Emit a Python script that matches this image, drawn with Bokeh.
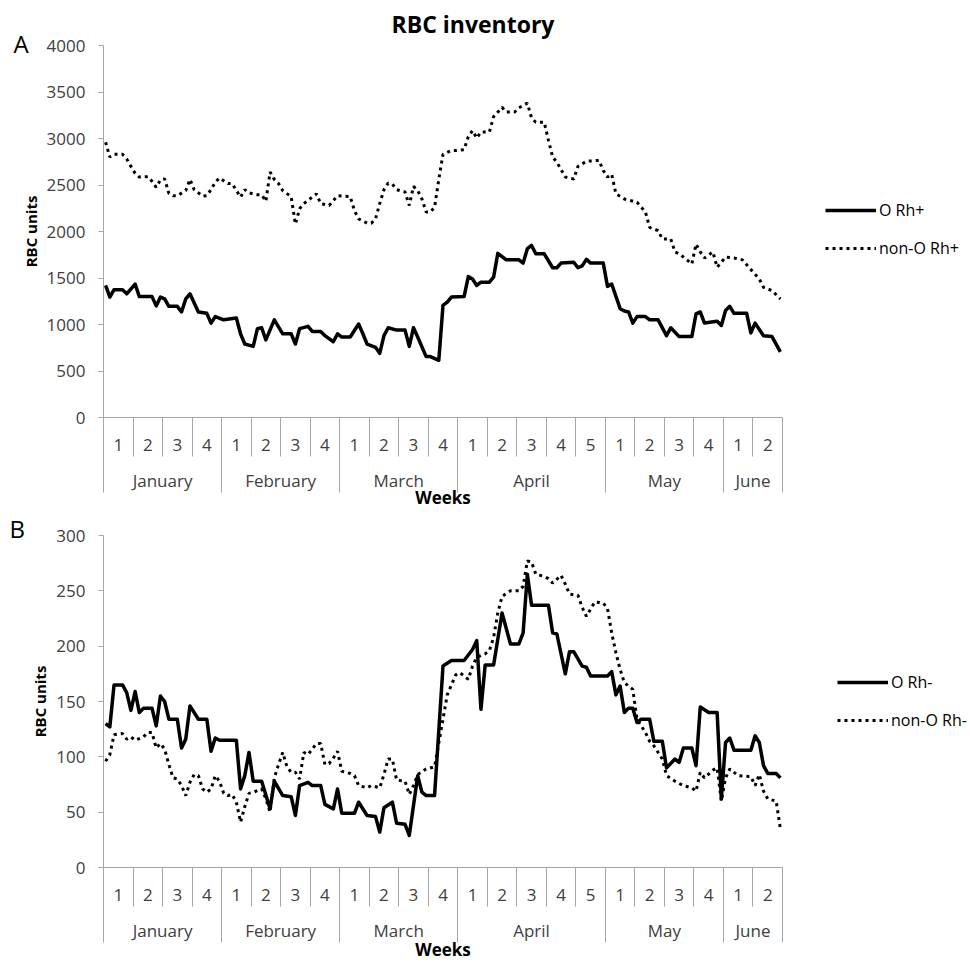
from bokeh.plotting import figure
from bokeh.models import Range1d, LinearAxis, FixedTicker, Legend, LegendItem, Title
from bokeh.layouts import column
from bokeh.embed import file_html
from bokeh.resources import INLINE

# ---------------- data ----------------
months = ["January", "February", "March", "April", "May", "June"]
weeks_in_month = [4, 4, 4, 5, 4, 2]
days_in_week = 7

# Panel A  (day index, RBC units)
a_orhpos_day = [0, 1, 2, 4, 5, 7, 8, 11, 12, 13, 14, 15, 17, 18, 19, 20, 22, 24, 25, 26, 28, 31, 32, 33, 35, 36, 37, 38, 40, 42,
                44, 45, 46, 48, 49, 51, 52, 54, 55, 56, 58, 60, 61, 62, 64, 65, 66, 67, 69, 71, 72, 73, 74, 76, 77, 79, 80, 81, 82, 85,
                86, 87, 88, 89, 91, 92, 93, 95, 98, 99, 100, 101, 102, 104, 106, 107, 108, 111, 112, 113, 114, 115, 118, 119, 120, 122,
                123, 124, 125, 126, 128, 129, 131, 133, 134, 136, 139, 140, 141, 142, 145, 146, 147, 148, 149, 152, 153, 154, 156, 158, 160]
a_orhpos_units = [1420, 1295, 1375, 1375, 1330, 1435, 1300, 1300, 1200, 1295, 1275, 1195, 1195, 1135, 1275, 1330, 1135, 1120, 1015, 1085,
                  1050, 1070, 900, 790, 765, 955, 965, 835, 1050, 900, 900, 790, 955, 980, 925, 925, 880, 815, 900, 865, 865, 1005, 900,
                  790, 755, 690, 880, 965, 940, 940, 765, 965, 865, 655, 655, 615, 1205, 1240, 1295, 1300, 1515, 1490, 1420, 1455, 1455,
                  1510, 1765, 1695, 1695, 1660, 1815, 1850, 1760, 1760, 1610, 1610, 1660, 1670, 1610, 1630, 1700, 1660, 1660, 1410, 1435,
                  1170, 1145, 1135, 1015, 1085, 1085, 1050, 1050, 880, 965, 870, 870, 1115, 1135, 1015, 1035, 990, 1150, 1195, 1120, 1120,
                  910, 1015, 880, 870, 705]

a_nonorhpos_day = [0, 1, 2, 4, 5, 6, 7, 8, 10, 11, 12, 13, 14, 15, 16, 17, 19, 20, 21, 23, 24, 25, 26, 27, 29, 30, 32, 33, 34, 36, 37,
                   38, 39, 40, 41, 42, 44, 45, 46, 47, 50, 51, 53, 55, 58, 59, 60, 62, 63, 64, 65, 66, 67, 68, 69, 71, 72, 73, 74, 75,
                   76, 77, 78, 79, 80, 82, 83, 85, 86, 87, 88, 89, 91, 92, 94, 95, 97, 98, 100, 101, 102, 104, 105, 106, 107, 109, 111,
                   112, 114, 117, 118, 119, 120, 121, 123, 126, 128, 129, 131, 132, 134, 135, 136, 138, 139, 140, 141, 142, 144, 145,
                   147, 149, 151, 153, 155, 156, 158, 160]
a_nonorhpos_units = [2960, 2800, 2830, 2830, 2780, 2700, 2625, 2585, 2590, 2540, 2475, 2555, 2565, 2410, 2385, 2385, 2440, 2560, 2450,
                     2380, 2385, 2450, 2530, 2575, 2515, 2515, 2370, 2450, 2415, 2395, 2395, 2325, 2640, 2560, 2515, 2440, 2375, 2080,
                     2245, 2300, 2405, 2300, 2280, 2385, 2375, 2225, 2135, 2090, 2090, 2135, 2300, 2450, 2520, 2510, 2450, 2425, 2280,
                     2485, 2440, 2350, 2210, 2210, 2260, 2560, 2830, 2870, 2870, 2880, 3020, 3085, 3005, 3070, 3070, 3235, 3335, 3285,
                     3285, 3330, 3380, 3220, 3175, 3175, 2980, 2800, 2745, 2585, 2565, 2700, 2755, 2765, 2655, 2585, 2615, 2405, 2350,
                     2315, 2210, 2045, 2010, 1920, 1920, 1780, 1760, 1690, 1650, 1865, 1780, 1715, 1780, 1615, 1725, 1715, 1695, 1590,
                     1490, 1400, 1365, 1275]

# Panel B
b_orhneg_day = [0, 1, 2, 4, 5, 6, 7, 8, 9, 11, 12, 13, 14, 15, 17, 18, 19, 20, 22, 24, 25, 26, 27, 31, 32, 33, 34, 35, 37, 39, 40, 42,
                44, 45, 46, 48, 49, 51, 52, 54, 55, 56, 59, 60, 62, 64, 65, 66, 68, 69, 71, 72, 74, 75, 76, 78, 80, 82, 85, 87, 88, 89,
                90, 92, 94, 96, 98, 99, 100, 101, 105, 106, 107, 109, 110, 111, 113, 114, 115, 119, 120, 121, 122, 123, 124, 125, 126,
                127, 129, 130, 132, 133, 135, 136, 137, 139, 140, 141, 143, 145, 146, 147, 148, 149, 153, 154, 155, 156, 157, 159, 160]
b_orhneg_units = [130, 127, 165, 165, 158, 142, 159, 140, 144, 144, 128, 155, 150, 134, 134, 108, 116, 146, 134, 134, 105, 117, 115, 115,
                  71, 83, 104, 78, 78, 53, 78, 65, 64, 47, 74, 77, 74, 74, 57, 53, 71, 49, 49, 59, 47, 46, 32, 54, 59, 40, 39, 29, 83,
                  68, 65, 65, 182, 187, 187, 197, 205, 143, 183, 183, 230, 202, 202, 212, 265, 237, 237, 212, 211, 175, 195, 195, 182,
                  181, 173, 173, 177, 156, 164, 140, 144, 144, 131, 134, 134, 114, 114, 90, 98, 95, 108, 108, 92, 145, 140, 140, 62,
                  113, 117, 106, 106, 119, 113, 92, 85, 85, 81]

b_nonorhneg_day = [0, 1, 2, 4, 5, 6, 7, 9, 10, 11, 12, 13, 14, 15, 16, 17, 18, 19, 20, 21, 22, 23, 24, 25, 26, 27, 28, 29, 30, 31, 32,
                   33, 34, 35, 37, 38, 39, 40, 41, 42, 43, 44, 45, 46, 47, 48, 49, 50, 51, 52, 53, 54, 55, 56, 58, 59, 60, 62, 63, 65,
                   66, 67, 68, 69, 71, 72, 73, 74, 76, 78, 80, 81, 82, 83, 84, 85, 86, 87, 88, 90, 91, 92, 93, 94, 96, 98, 99, 100,
                   101, 102, 104, 105, 106, 108, 109, 110, 112, 113, 114, 116, 118, 119, 120, 121, 122, 123, 124, 125, 126, 127, 128,
                   129, 130, 132, 133, 135, 137, 139, 140, 141, 142, 144, 145, 146, 147, 148, 150, 153, 154, 155, 156, 157, 159, 160]
b_nonorhneg_units = [96, 102, 120, 121, 116, 118, 115, 118, 122, 122, 108, 112, 107, 93, 81, 80, 74, 65, 77, 84, 83, 71, 68, 71, 83, 78,
                     67, 65, 66, 59, 41, 55, 67, 68, 71, 62, 50, 81, 93, 104, 91, 86, 86, 80, 104, 102, 107, 112, 112, 93, 94, 99,
                     105, 87, 85, 83, 74, 72, 74, 72, 84, 98, 98, 79, 78, 66, 74, 84, 89, 91, 134, 156, 165, 174, 176, 173, 170, 182,
                     190, 193, 196, 208, 230, 245, 250, 250, 254, 277, 276, 265, 263, 261, 257, 264, 256, 247, 246, 235, 227, 240,
                     239, 234, 212, 194, 179, 167, 164, 161, 134, 128, 122, 114, 110, 98, 83, 78, 74, 72, 69, 86, 81, 88, 90, 60, 81,
                     89, 83, 82, 74, 84, 69, 62, 60, 35]

# ---------------- styling ----------------
FONT = "Open Sans"
GRAY = "#a6a6a6"
TXT = "#404040"
PAGE_W = 970

n_weeks = sum(weeks_in_month)
n_days = n_weeks * days_in_week
span = 2 * n_days                      # two x-units per day, point drawn at day centre

week_bounds = [2 * days_in_week * k for k in range(n_weeks + 1)]
week_centers = [2 * days_in_week * k + days_in_week for k in range(n_weeks)]
week_names = {}
k = 0
for nw in weeks_in_month:
    for w in range(nw):
        week_names[week_centers[k]] = str(w + 1)
        k += 1
month_bounds = [0]
cum = 0
for nw in weeks_in_month:
    cum += nw
    month_bounds.append(2 * days_in_week * cum)
month_centers = [(a + b) // 2 for a, b in zip(month_bounds[:-1], month_bounds[1:])]
month_names = dict(zip(month_centers, months))


def make_panel(series, ymax, ystep, frame_w, frame_h, left, top, letter, letter_standoff,
               letter_offset, legend_xy, weeks_standoff, title=False):
    p = figure(frame_width=frame_w, frame_height=frame_h,
               x_range=Range1d(0, span), y_range=Range1d(0, ymax),
               output_backend="svg", toolbar_location=None, x_axis_location=None,
               min_border_left=left, min_border_right=PAGE_W - left - frame_w,
               min_border_top=top, min_border_bottom=0)
    p.grid.grid_line_color = None
    p.outline_line_color = None

    yax = p.yaxis[0]
    yax.ticker = FixedTicker(ticks=list(range(0, ymax + 1, ystep)))
    yax.axis_line_color = GRAY
    yax.major_tick_line_color = GRAY
    yax.major_tick_out = 5
    yax.major_tick_in = 0
    yax.minor_tick_out = 0
    yax.minor_tick_in = 0
    yax.major_label_text_font = FONT
    yax.major_label_text_font_size = "17px"
    yax.major_label_text_color = TXT
    yax.major_label_standoff = 13
    yax.axis_label = "RBC units"
    yax.axis_label_text_font = FONT
    yax.axis_label_text_font_size = "15px"
    yax.axis_label_text_font_style = "bold"
    yax.axis_label_text_color = "black"
    yax.axis_label_standoff = 3

    # week row: labels between separator lines
    ax1 = LinearAxis(ticker=FixedTicker(ticks=week_centers, minor_ticks=week_bounds),
                     major_label_overrides=week_names)
    ax1.axis_line_color = GRAY
    ax1.major_tick_out = 0
    ax1.major_tick_in = 0
    ax1.minor_tick_out = 39
    ax1.minor_tick_in = 0
    ax1.minor_tick_line_color = GRAY
    ax1.major_label_text_font = FONT
    ax1.major_label_text_font_size = "17px"
    ax1.major_label_text_color = TXT
    ax1.major_label_standoff = -18
    p.add_layout(ax1, "below")

    # month row
    ax2 = LinearAxis(ticker=FixedTicker(ticks=month_centers, minor_ticks=month_bounds),
                     major_label_overrides=month_names)
    ax2.axis_line_color = None
    ax2.major_tick_out = 0
    ax2.major_tick_in = 0
    ax2.minor_tick_out = 39
    ax2.minor_tick_in = 0
    ax2.minor_tick_line_color = GRAY
    ax2.major_label_text_font = FONT
    ax2.major_label_text_font_size = "17px"
    ax2.major_label_text_color = TXT
    ax2.major_label_standoff = -24
    ax2.axis_label = "Weeks"
    ax2.axis_label_text_font = FONT
    ax2.axis_label_text_font_size = "17px"
    ax2.axis_label_text_font_style = "bold"
    ax2.axis_label_text_color = "black"
    ax2.axis_label_standoff = weeks_standoff
    p.add_layout(ax2, "below")

    items = []
    for days, vals, dash, label in series:
        xs = [2 * d + 1 for d in days]
        if dash is None:
            r = p.line(xs, vals, line_color="black", line_width=3.5, line_join="round")
        else:
            r = p.line(xs, vals, line_color="black", line_width=3, line_dash=dash)
        items.append(LegendItem(label=label, renderers=[r]))

    legend = Legend(items=items, location=legend_xy, glyph_width=51, glyph_height=20,
                    label_height=20, spacing=16, padding=0, margin=0,
                    border_line_color=None, background_fill_alpha=0,
                    label_text_font=FONT, label_text_font_size="16px",
                    label_text_color="black", label_standoff=3)
    p.add_layout(legend, "right")

    p.add_layout(Title(text=letter, align="left", vertical_align="middle", offset=letter_offset,
                       standoff=letter_standoff, text_font=FONT, text_font_size="24px",
                       text_font_style="normal", text_color="black"), "above")
    if title:
        p.add_layout(Title(text="RBC inventory", align="left", vertical_align="middle", offset=288,
                           standoff=0, text_font=FONT, text_font_size="23px",
                           text_font_style="bold", text_color="black"), "above")
    return p


pa = make_panel(
    [(a_orhpos_day, a_orhpos_units, None, "O Rh+"),
     (a_nonorhpos_day, a_nonorhpos_units, "3 4", "non-O Rh+")],
    4000, 500, frame_w=679, frame_h=372, left=103, top=45,
    letter="A", letter_standoff=-30, letter_offset=-90, legend_xy=(43, 158),
    weeks_standoff=-9, title=True)

pb = make_panel(
    [(b_orhneg_day, b_orhneg_units, None, "O Rh-"),
     (b_nonorhneg_day, b_nonorhneg_units, "3 4", "non-O Rh-")],
    300, 50, frame_w=679, frame_h=332, left=103, top=24,
    letter="B", letter_standoff=-20, letter_offset=-94, legend_xy=(55, 136),
    weeks_standoff=-7)

layout = column(pa, pb)
open("out.html", "w").write(file_html(layout, INLINE))
